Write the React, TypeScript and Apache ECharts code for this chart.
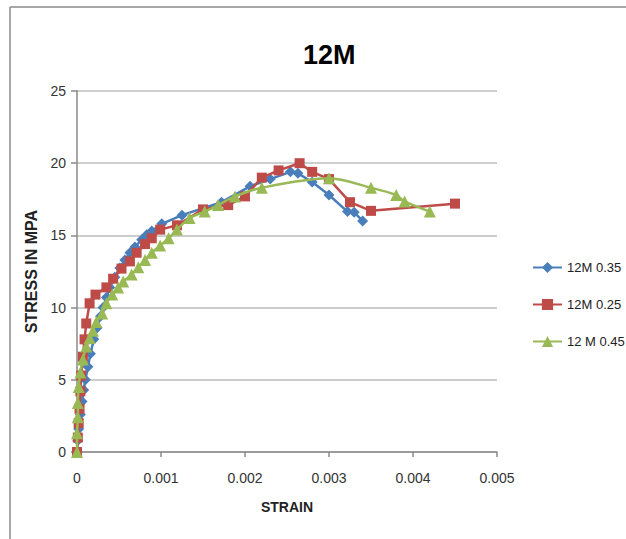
import React, { useEffect, useRef } from "react";
import * as echarts from "echarts";

const xTicks = [0, 0.001, 0.002, 0.003, 0.004, 0.005];
const yTicks = [0, 5, 10, 15, 20, 25];

const blueStrain = [0, 0.00001, 0.00002, 0.00004, 0.00006, 0.00008, 0.0001, 0.00013, 0.00016, 0.0002, 0.00024, 0.00028, 0.00031, 0.00035, 0.00039, 0.00045, 0.00051, 0.00057, 0.00063, 0.00069, 0.00077, 0.00083, 0.00089, 0.00101, 0.00125, 0.00172, 0.00206, 0.0023, 0.00254, 0.00263, 0.0028, 0.003, 0.00322, 0.0033, 0.0034];
const blueStress = [0, 0.8, 1.6, 2.6, 3.5, 4.3, 5.0, 5.9, 6.8, 7.8, 8.6, 9.4, 10.0, 10.7, 11.4, 12.1, 12.75, 13.3, 13.8, 14.2, 14.7, 15.05, 15.3, 15.8, 16.4, 17.3, 18.4, 18.9, 19.4, 19.3, 18.7, 17.8, 16.65, 16.6, 16.0];

const redStrain = [0, 0.00001, 0.00002, 0.00003, 0.00004, 0.00005, 0.00007, 0.00009, 0.00011, 0.00015, 0.00022, 0.00035, 0.00043, 0.00053, 0.00063, 0.00071, 0.00081, 0.00089, 0.00099, 0.00119, 0.0015, 0.0018, 0.002, 0.0022, 0.0024, 0.00265, 0.0028, 0.003, 0.00325, 0.0035, 0.0045];
const redStress = [0, 1.0, 2.0, 3.0, 4.2, 5.3, 6.6, 7.8, 8.9, 10.3, 10.9, 11.4, 12.0, 12.7, 13.2, 13.8, 14.4, 14.8, 15.4, 15.7, 16.8, 17.1, 17.7, 19.0, 19.5, 20.0, 19.4, 18.9, 17.3, 16.7, 17.2];

const greenStrain = [0, 0, 0.00001, 0.00001, 0.00002, 0.00004, 0.00007, 0.00011, 0.00015, 0.00019, 0.00023, 0.0003, 0.00035, 0.00042, 0.00049, 0.00055, 0.00065, 0.00073, 0.00081, 0.00089, 0.00099, 0.00109, 0.00119, 0.00134, 0.00152, 0.00168, 0.00188, 0.0022, 0.003, 0.0035, 0.0038, 0.0039, 0.0042];
const greenStress = [0, 1.3, 2.4, 3.4, 4.5, 5.5, 6.4, 7.3, 7.9, 8.4, 9.0, 9.6, 10.3, 10.9, 11.4, 11.8, 12.3, 12.8, 13.3, 13.8, 14.3, 14.8, 15.4, 16.2, 16.65, 17.1, 17.7, 18.3, 18.95, 18.3, 17.8, 17.35, 16.65];

const seriesNames = ["12M 0.35", "12M 0.25", "12 M 0.45"];

const FONT = "'Liberation Sans', Arial, sans-serif";

function pairs(xs: number[], ys: number[]) {
  return xs.map((x, i) => [x, ys[i]]);
}

export default function App() {
  const ref = useRef<HTMLDivElement>(null);
  useEffect(() => {
    if (!ref.current) return;
    const chart = echarts.init(ref.current, undefined, { renderer: "svg" });
    chart.setOption({
      animation: false,
      backgroundColor: "#ffffff",
      title: {
        text: "12M",
        left: 298,
        top: 36,
        textStyle: { fontFamily: FONT, fontWeight: "bold", fontSize: 27, color: "#000" },
      },
      graphic: [
        { type: "line", shape: { x1: 10, y1: 7, x2: 626, y2: 7 }, style: { stroke: "#8a8a8a", lineWidth: 1.5 } },
        { type: "line", shape: { x1: 10, y1: 7, x2: 10, y2: 539 }, style: { stroke: "#8a8a8a", lineWidth: 1.5 } },
      ],
      legend: {
        orient: "vertical",
        left: 532,
        top: 261,
        padding: 0,
        itemWidth: 29,
        itemHeight: 14,
        itemGap: 24,
        data: seriesNames,
        textStyle: { fontFamily: FONT, fontSize: 13, color: "#222" },
      },
      grid: { left: 77, right: 129, top: 91, bottom: 87 },
      xAxis: {
        type: "value",
        min: 0,
        max: 0.005,
        interval: 0.001,
        name: "STRAIN",
        nameLocation: "middle",
        nameGap: 48,
        nameTextStyle: { fontFamily: FONT, fontWeight: "bold", fontSize: 14, color: "#222" },
        axisLine: { show: true, lineStyle: { color: "#8a8a8a", width: 1.5 } },
        axisTick: { show: true, length: 5, lineStyle: { color: "#8a8a8a", width: 1.5 } },
        axisLabel: {
          margin: 19,
          fontFamily: FONT,
          fontSize: 14,
          color: "#333",
          formatter: (v: number) => {
            const idx = xTicks.findIndex((t) => Math.abs(t - v) < 1e-9);
            return idx === 0 ? "0" : idx > 0 ? xTicks[idx].toFixed(3) : "";
          },
        },
        splitLine: { show: false },
      },
      yAxis: {
        type: "value",
        min: 0,
        max: 25,
        interval: 5,
        name: "STRESS IN MPA",
        nameLocation: "middle",
        nameRotate: 90,
        nameGap: 35,
        nameTextStyle: { fontFamily: FONT, fontWeight: "bold", fontSize: 16, color: "#222" },
        axisLine: { show: true, lineStyle: { color: "#8a8a8a", width: 1.5 } },
        axisTick: { show: true, length: 6, lineStyle: { color: "#8a8a8a", width: 1.5 } },
        axisLabel: {
          margin: 11,
          fontFamily: FONT,
          fontSize: 14,
          color: "#333",
          formatter: (v: number) => (yTicks.includes(v) ? String(v) : ""),
        },
        splitLine: { show: true, lineStyle: { color: "#bdbdbd", width: 1.5 } },
      },
      series: [
        {
          name: seriesNames[0],
          type: "line",
          data: pairs(blueStrain, blueStress),
          symbol: "diamond",
          symbolSize: 11,
          color: "#4a7ebb",
          lineStyle: { width: 2.5, color: "#4a7ebb" },
          itemStyle: { color: "#4a7ebb" },
          clip: false,
          z: 2,
        },
        {
          name: seriesNames[1],
          type: "line",
          data: pairs(redStrain, redStress),
          symbol: "rect",
          symbolSize: 10,
          color: "#be4b48",
          lineStyle: { width: 2.5, color: "#be4b48" },
          itemStyle: { color: "#be4b48" },
          clip: false,
          z: 3,
        },
        {
          name: seriesNames[2],
          type: "line",
          data: pairs(greenStrain, greenStress),
          symbol: "triangle",
          symbolSize: 12,
          smooth: 0.3,
          color: "#98b954",
          lineStyle: { width: 2.5, color: "#98b954" },
          itemStyle: { color: "#98b954" },
          clip: false,
          z: 4,
        },
      ],
    });
    return () => chart.dispose();
  }, []);
  return <div ref={ref} style={{ position: "fixed", left: 0, top: 0, width: 626, height: 539 }} />;
}
